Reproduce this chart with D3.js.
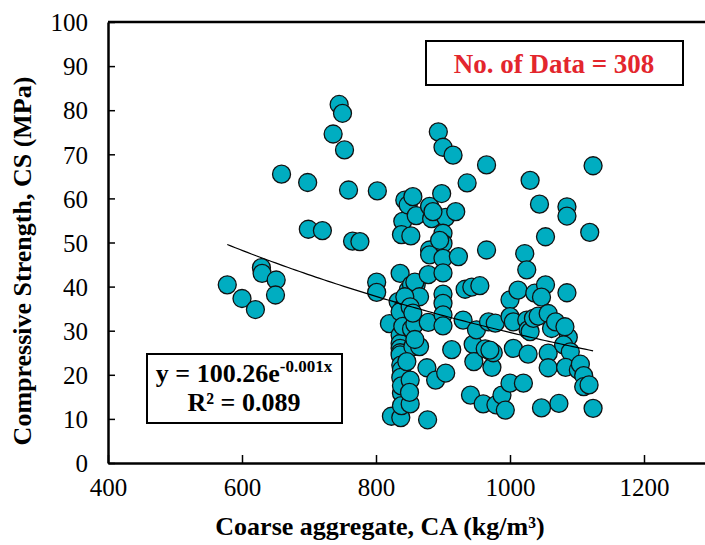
<html>

<head>
    <script src="https://d3js.org/d3.v7.min.js"></script>
    <style>
        body { margin: 0; background: white; }
    </style>
</head>

<body>
    <div id="vis"></div>
</body>

<script>

    // Data: coarse aggregate (kg/m3) vs compressive strength (MPa)
    var caValues = [
        578, 600, 620, 629, 630, 651, 650, 659, 698, 699, 720, 736, 745, 750, 753, 759, 765, 776,
        802, 801, 801, 820, 823,
        840, 838, 843, 848, 836, 833, 841, 843, 836, 836, 836, 836, 836, 836, 837, 838, 837, 838, 837, 838, 840, 838,
        855, 860, 852, 848, 853, 860, 858, 865, 843, 851, 853, 858, 855, 865, 858, 851, 851, 850, 846, 855,
        880, 883, 880, 880, 878, 878, 876, 877, 889, 904, 893, 900, 898, 904, 900, 900, 900, 900, 900, 900, 900, 900, 885, 895,
        915, 919, 923, 913, 930, 933, 936,
        943, 955, 945, 950, 946, 941, 960, 965, 965, 963, 968, 972, 973, 978, 975, 979, 970,
        988, 993, 1000, 1000, 1000, 1005, 1005,
        1012, 1022, 1025, 1030, 1020, 1025, 1027, 1027, 1030, 1035, 1037,
        1044, 1053, 1053, 1047, 1042, 1057, 1062, 1068, 1057, 1057, 1047, 1073,
        1085, 1085, 1119, 1085, 1087, 1082, 1080, 1090, 1083, 1102, 1105, 1110, 1110, 1118, 1124, 1124
    ];
    var csValues = [
        40.4, 37.3, 34.8, 44.3, 43.0, 41.5, 38.1, 65.5, 63.6, 53.0, 52.7, 74.6, 81.3, 79.3, 71.0, 61.9, 50.3, 50.2,
        61.7, 41.0, 38.7, 31.6, 10.6,
        54.8, 51.8, 59.6, 58.5, 43.0, 36.6, 35.4, 33.4, 34.3, 29.0, 27.1, 26.0, 25.0, 24.5, 22.2, 21.1, 19.4, 15.8, 10.3, 13.0, 31.0, 17.5,
        60.4, 56.1, 51.5, 39.2, 40.4, 40.4, 41.0, 37.7, 37.7, 35.4, 30.4, 31.5, 26.4, 26.4, 28.0, 18.8, 13.4, 16.0, 23.0, 34.0,
        58.2, 55.4, 48.3, 47.2, 42.7, 31.9, 21.6, 9.8, 18.8, 20.4, 75.1, 71.6, 61.1, 55.7, 52.1, 49.8, 46.4, 43.1, 38.3, 36.2, 33.6, 31.1, 57.0, 50.5,
        69.8, 57.0, 46.8, 25.7, 32.4, 39.4, 63.5,
        39.9, 40.2, 26.9, 30.2, 23.0, 15.4, 13.4, 67.6, 48.3, 25.9, 32.0, 25.2, 21.7, 31.7, 25.0, 13.2, 25.6,
        15.4, 12.0, 18.1, 37.0, 33.2, 32.0, 26.0,
        39.2, 47.5, 43.8, 64.1, 18.1, 32.4, 30.2, 24.7, 29.8, 32.8, 38.5,
        58.7, 51.3, 40.4, 37.6, 33.3, 33.9, 30.5, 32.0, 24.9, 21.6, 12.5, 13.5,
        58.1, 56.0, 52.3, 38.6, 28.5, 30.9, 26.8, 25.2, 21.7, 21.1, 22.4, 19.8, 17.3, 17.7, 67.4, 12.4
    ];

    // Tick labels
    var xTicks = [400, 600, 800, 1000, 1200];
    var yTicks = [0, 10, 20, 30, 40, 50, 60, 70, 80, 90, 100];

    // Trend line y = a * exp(-k x), drawn over the data range
    var trendA = 100.26, trendK = 0.00122;
    var trendRange = [578, 1124];

    var data = caValues.map(function (d, i) { return { ca: d, cs: csValues[i] }; });

    // Setting up the graph area
    var margin = { top: 22, right: 0, bottom: 82, left: 108 },
        width = 603,
        height = 441;

    var svg = d3.select("#vis")
        .append("svg")
        .attr("width", 705)
        .attr("height", 545)
        .append("g")
        .attr("transform", "translate(" + margin.left + "," + margin.top + ")");

    var font = "'Liberation Serif', 'Times New Roman', serif";

    var x = d3.scaleLinear().domain([400, 1300]).range([0, width]);
    var y = d3.scaleLinear().domain([0, 100]).range([height, 0]);

    // Axes with ticks pointing inward
    var xAxis = svg.append("g")
        .attr("transform", "translate(0," + height + ")")
        .call(d3.axisBottom(x).tickValues(xTicks).tickFormat(d3.format("d"))
            .tickSizeInner(-8).tickSizeOuter(0).tickPadding(15));
    var yAxis = svg.append("g")
        .call(d3.axisLeft(y).tickValues(yTicks).tickSizeInner(-7).tickSizeOuter(0).tickPadding(20));

    [xAxis, yAxis].forEach(function (a) {
        a.select(".domain").attr("stroke", "#000").attr("stroke-width", 2.5);
        a.selectAll(".tick line").attr("stroke", "#000").attr("stroke-width", 1.5);
        a.selectAll(".tick text")
            .style("font-family", font)
            .style("font-size", "25px")
            .attr("fill", "#000");
    });
    yAxis.selectAll(".tick text").attr("dy", "0.35em");

    // top border
    svg.append("line")
        .attr("x1", 0).attr("x2", width)
        .attr("y1", 0).attr("y2", 0)
        .attr("stroke", "#000").attr("stroke-width", 2.5);

    // Axis titles
    svg.append("text")
        .attr("text-anchor", "middle")
        .attr("x", 380 - margin.left)
        .attr("y", 535 - margin.top)
        .style("font-family", font)
        .style("font-size", "26px")
        .style("font-weight", "bold")
        .text("Coarse aggregate, CA (kg/m³)");

    svg.append("text")
        .attr("text-anchor", "middle")
        .attr("transform", "rotate(-90)")
        .attr("x", -(261 - margin.top))
        .attr("y", 31 - margin.left)
        .style("font-family", font)
        .style("font-size", "26px")
        .style("font-weight", "bold")
        .text("Compressive Strength, CS (MPa)");

    // The dots
    svg.append("g")
        .selectAll("circle")
        .data(data)
        .enter()
        .append("circle")
        .attr("cx", function (d) { return x(d.ca); })
        .attr("cy", function (d) { return y(d.cs); })
        .attr("r", 9)
        .style("fill", "#00adc1")
        .style("stroke", "#111")
        .style("stroke-width", 1.3);

    // Trend line
    var trendPts = d3.range(trendRange[0], trendRange[1] + 1, 6).map(function (v) {
        return [v, trendA * Math.exp(-trendK * v)];
    });
    svg.append("path")
        .datum(trendPts)
        .attr("fill", "none")
        .attr("stroke", "#000")
        .attr("stroke-width", 1.2)
        .attr("d", d3.line()
            .x(function (d) { return x(d[0]); })
            .y(function (d) { return y(d[1]); }));

    // Data count box
    svg.append("rect")
        .attr("x", 426 - margin.left).attr("y", 41 - margin.top)
        .attr("width", 257).attr("height", 44)
        .attr("fill", "white").attr("stroke", "#000").attr("stroke-width", 2);
    svg.append("text")
        .attr("text-anchor", "middle")
        .attr("x", 554 - margin.left)
        .attr("y", 73 - margin.top)
        .style("font-family", font)
        .style("font-size", "27px")
        .style("font-weight", "bold")
        .attr("fill", "#e3262d")
        .text("No. of Data = 308");

    // Equation box
    svg.append("rect")
        .attr("x", 147 - margin.left).attr("y", 354 - margin.top)
        .attr("width", 195).attr("height", 69)
        .attr("fill", "white").attr("stroke", "#000").attr("stroke-width", 2);
    var eq = svg.append("text")
        .attr("text-anchor", "middle")
        .attr("x", 244 - margin.left)
        .attr("y", 382 - margin.top)
        .style("font-family", font)
        .style("font-size", "26px")
        .style("font-weight", "bold");
    eq.append("tspan").text("y = 100.26e");
    eq.append("tspan").attr("dy", -10).style("font-size", "17px").text("-0.001x");
    svg.append("text")
        .attr("text-anchor", "middle")
        .attr("x", 244 - margin.left)
        .attr("y", 411 - margin.top)
        .style("font-family", font)
        .style("font-size", "26px")
        .style("font-weight", "bold")
        .text("R² = 0.089");

</script>

</html>
